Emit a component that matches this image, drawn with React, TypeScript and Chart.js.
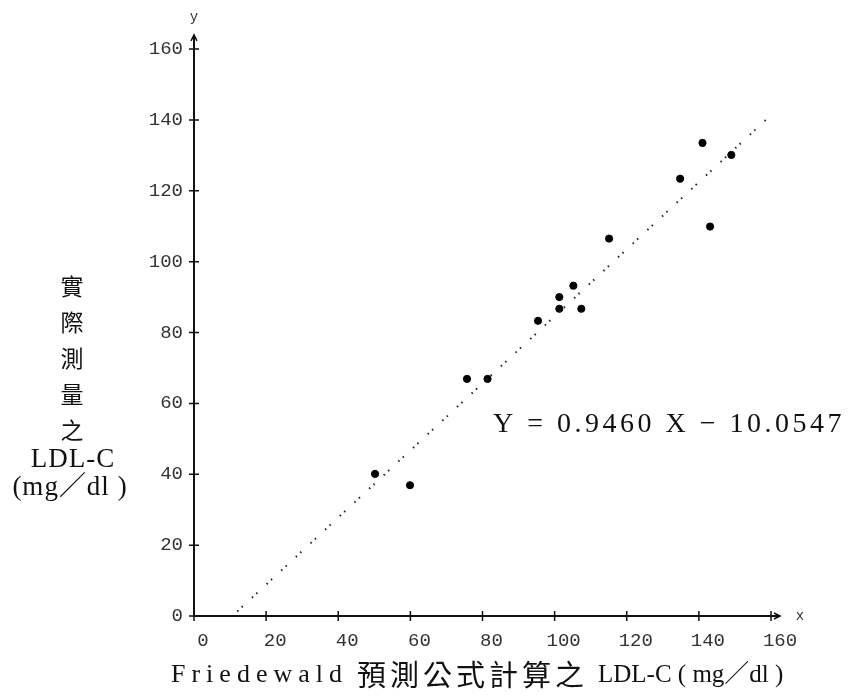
import React, { useEffect, useRef } from "react";
import { Chart, registerables } from "chart.js";

Chart.register(...registerables);

// Measured points: Friedewald-estimated LDL-C (x) vs measured LDL-C (y)
const pointX = [50.2, 59.9, 75.7, 81.4, 95.4, 101.3, 101.3, 105.2, 107.4, 115.1, 134.8, 141.0, 143.1, 149.0];
const pointY = [40.1, 36.9, 66.9, 66.9, 83.3, 90.0, 86.7, 93.2, 86.7, 106.5, 123.4, 133.5, 109.9, 130.1];

// Regression line end points (Y = 0.9460 X - 10.0547)
const lineX = [12, 159];
const lineY = [1.3, 140.4];

const tickValues = [0, 20, 40, 60, 80, 100, 120, 140, 160];

const equationText = "Y = 0.9460 X \u2212 10.0547";
const yTitleChars = ["實", "際", "測", "量", "之"];
const yTitleLine1 = "LDL-C";
const yTitleLine2 = "(mg\uFF0Fdl )";
const xTitleParts = ["Friedewald", "預測公式計算之", "LDL-C ( mg\uFF0Fdl )"];

const INK = "#111";
const SERIF = "'Liberation Serif', 'Noto Sans CJK TC', serif";

const decorPlugin = {
  id: "decor",
  afterDraw(chart: any) {
    const { ctx, scales } = chart;
    const xs = scales.x;
    const ys = scales.y;
    const x0 = xs.getPixelForValue(0);
    const y0 = ys.getPixelForValue(0);
    const yTop = ys.getPixelForValue(164);
    const xEnd = xs.getPixelForValue(162.5);
    ctx.save();
    ctx.strokeStyle = INK;
    ctx.fillStyle = INK;
    ctx.lineWidth = 2;
    // axes
    ctx.beginPath();
    ctx.moveTo(x0, y0 + 1);
    ctx.lineTo(x0, yTop);
    ctx.moveTo(x0 - 1, y0);
    ctx.lineTo(xEnd, y0);
    ctx.stroke();
    // arrow heads
    ctx.lineWidth = 1.5;
    ctx.beginPath();
    ctx.moveTo(x0 - 3, yTop + 6);
    ctx.lineTo(x0, yTop);
    ctx.lineTo(x0 + 3, yTop + 6);
    ctx.moveTo(xEnd - 6, y0 - 3);
    ctx.lineTo(xEnd, y0);
    ctx.lineTo(xEnd - 6, y0 + 3);
    ctx.stroke();
    // tick marks crossing axes
    ctx.beginPath();
    for (const v of tickValues) {
      const py = ys.getPixelForValue(v);
      ctx.moveTo(x0 - 5, py);
      ctx.lineTo(x0 + 5, py);
      const px = xs.getPixelForValue(v);
      ctx.moveTo(px, y0 - 5);
      ctx.lineTo(px, y0 + 5);
    }
    ctx.stroke();
    // axis letters
    ctx.fillStyle = "#333";
    ctx.font = "14px 'Liberation Mono', monospace";
    ctx.textAlign = "center";
    ctx.textBaseline = "middle";
    ctx.fillText("y", x0, yTop - 18);
    ctx.fillText("x", xEnd + 20, y0);

    ctx.fillStyle = INK;
    // equation
    ctx.font = "28px " + SERIF;
    (ctx as any).letterSpacing = "3.5px";
    ctx.textAlign = "left";
    ctx.fillText(equationText, 493, 425);

    // y title
    ctx.textAlign = "center";
    (ctx as any).letterSpacing = "0px";
    ctx.font = "23px 'Noto Sans CJK TC', sans-serif";
    const charY = [286, 322, 358, 394, 430];
    yTitleChars.forEach((c, i) => ctx.fillText(c, 72, charY[i]));
    ctx.font = "27px " + SERIF;
    (ctx as any).letterSpacing = "1px";
    ctx.fillText(yTitleLine1, 73, 460);
    ctx.fillText(yTitleLine2, 70, 488);

    // x title
    ctx.textAlign = "left";
    ctx.font = "26px " + SERIF;
    (ctx as any).letterSpacing = "6px";
    ctx.fillText(xTitleParts[0], 171, 675);
    ctx.font = "29px 'Noto Sans CJK TC', sans-serif";
    (ctx as any).letterSpacing = "4px";
    ctx.fillText(xTitleParts[1], 357, 675);
    ctx.font = "25px " + SERIF;
    (ctx as any).letterSpacing = "0px";
    ctx.fillText(xTitleParts[2], 598, 675);
    ctx.restore();
  },
};

export default function App() {
  const ref = useRef<HTMLCanvasElement>(null);
  useEffect(() => {
    if (!ref.current) return;
    const chart = new Chart(ref.current, {
      type: "scatter",
      data: {
        datasets: [
          {
            type: "line",
            data: lineX.map((x, i) => ({ x, y: lineY[i] })),
            borderColor: "#222",
            borderWidth: 2,
            borderDash: [1.5, 4.5, 1.5, 12.5],
            pointRadius: 0,
            fill: false,
          } as any,
          {
            data: pointX.map((x, i) => ({ x, y: pointY[i] })),
            backgroundColor: "#000",
            borderColor: "#000",
            pointRadius: 3.6,
            pointStyle: "circle",
          },
        ],
      },
      options: {
        animation: false,
        responsive: false,
        layout: { padding: { top: 49, right: 80, left: 0, bottom: 0 } },
        plugins: { legend: { display: false }, tooltip: { enabled: false } },
        scales: {
          x: {
            type: "linear",
            min: 0,
            max: 160,
            grid: { display: false },
            border: { display: false },
            ticks: {
              stepSize: 20,
              color: "#333",
              font: { family: "'Liberation Mono', monospace", size: 19 },
              labelOffset: 9,
              padding: 6,
              maxRotation: 0,
            },
            afterFit: (s: any) => {
              s.height = 84;
            },
          },
          y: {
            type: "linear",
            min: 0,
            max: 160,
            grid: { display: false },
            border: { display: false },
            ticks: {
              stepSize: 20,
              color: "#333",
              font: { family: "'Liberation Mono', monospace", size: 19 },
              padding: 3,
            },
            afterFit: (s: any) => {
              s.width = 194;
            },
          },
        },
      },
      plugins: [decorPlugin],
    });
    return () => chart.destroy();
  }, []);
  return (
    <div style={{ position: "absolute", left: 0, top: 0, width: 851, height: 700, background: "#fff" }}>
      <canvas ref={ref} width={851} height={700} />
    </div>
  );
}
